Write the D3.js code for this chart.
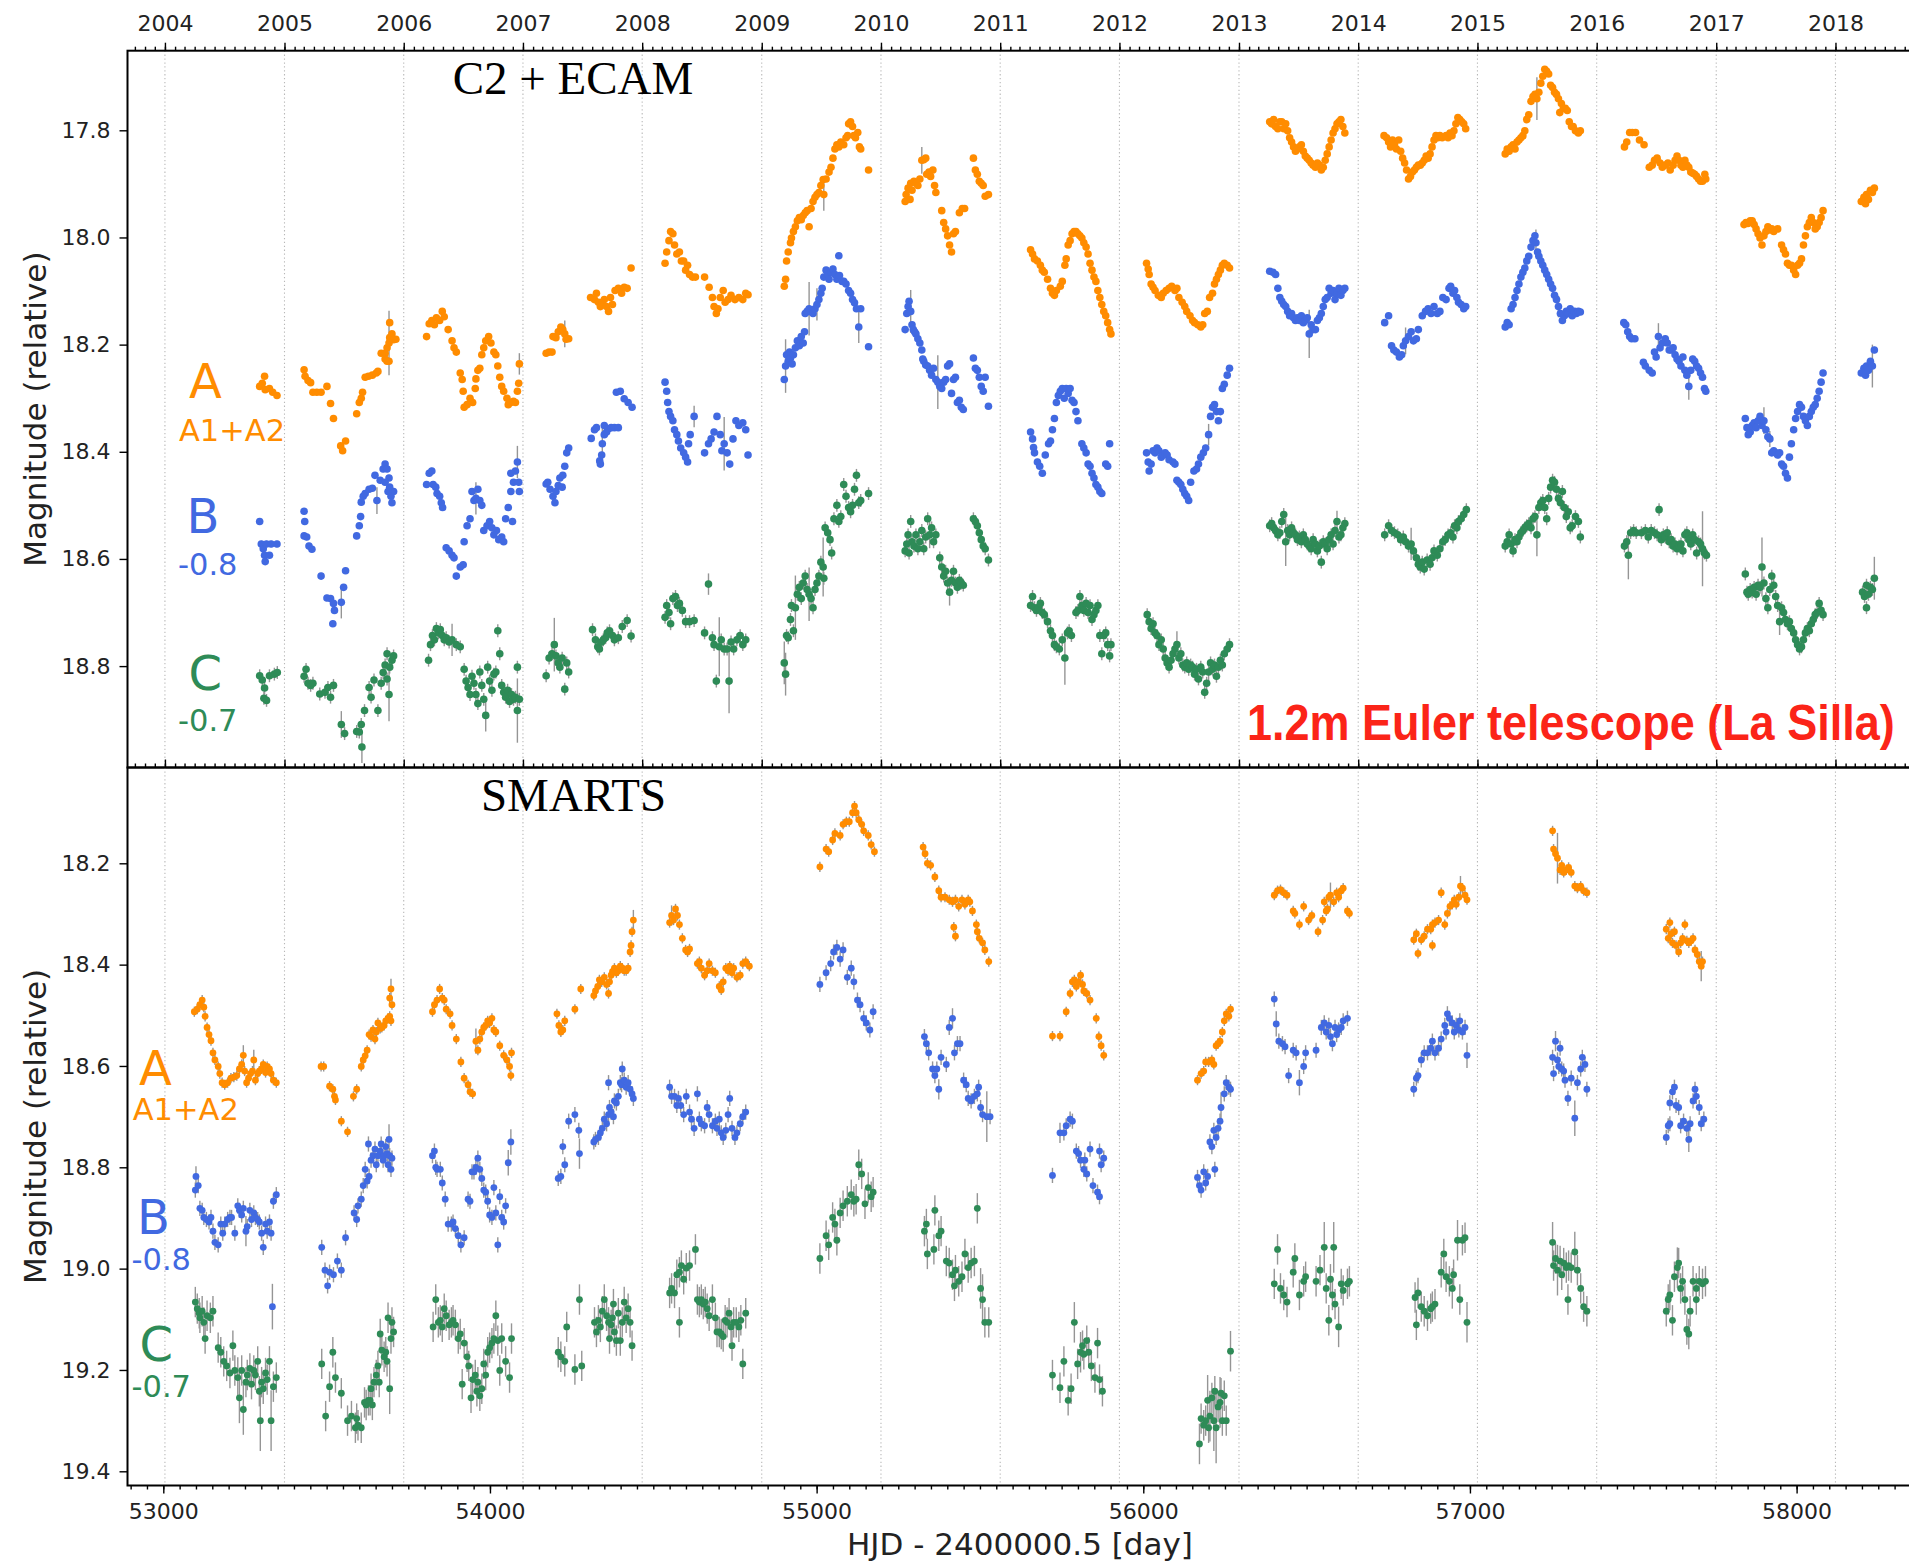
<!DOCTYPE html>
<html>
<head>
<meta charset="utf-8">
<script src="https://cdn.jsdelivr.net/npm/d3@7"></script>
<style>
  body { margin: 0; background: #fff; }
  svg { display: block; }
</style>
</head>
<body>
<svg id="chart" width="1909" height="1564"></svg>
<script>
// ---------------------------------------------------------------------------
// Light curves of the lensed quasar images A (A1+A2), B (shifted by -0.8 mag)
// and C (shifted by -0.7 mag).  Each point: [HJD - 2400000.5, magnitude, (error)]
// Points without an explicit error use the nominal error of their series.
// ---------------------------------------------------------------------------

// 1.2m Euler telescope, C2 + ECAM cameras
const ecamA = [
  [53295,18.278],[53303,18.272],[53310,18.259],[53312,18.284],[53325,18.282],[53335,18.289],[53348,18.295],
  [53431,18.247],[53434,18.259],[53443,18.267],[53451,18.271],[53458,18.289],[53470,18.289],[53483,18.289],[53501,18.278],[53512,18.310],[53521,18.338],[53543,18.389],[53549,18.398],[53558,18.380],[53592,18.329],[53600,18.308],[53606,18.300],[53610,18.289],[53618,18.261],[53628,18.259],[53640,18.257],[53652,18.253],[53657,18.250],[53667,18.216],[53679,18.216],[53685,18.206],[53691,18.197,0.06],[53697,18.190],[53693,18.159],[53693,18.187],[53700,18.180],[53705,18.191],[53712,18.190],[53691,18.231],[53685,18.231],[53679,18.227],
  [53806,18.185],[53814,18.161],[53822,18.155],[53830,18.163],[53836,18.150],[53846,18.155],[53854,18.138],[53860,18.148],[53872,18.172],[53884,18.193],[53890,18.206],[53897,18.214],[53909,18.253],[53915,18.265],[53918,18.287],[53921,18.317],[53930,18.312],[53939,18.300],[53947,18.308],[53955,18.282],[53957,18.264],[53963,18.248],[53969,18.244],[53975,18.219],[53981,18.206],[53987,18.193],[53996,18.185],[54003,18.197],[54012,18.214],[54018,18.219],[54024,18.240],[54030,18.261],[54036,18.278],[54042,18.287],[54052,18.300],[54056,18.312],[54064,18.308],[54072,18.306],[54078,18.308],[54084,18.287],[54090,18.236,0.02],[54088,18.272],
  [54172,18.216],[54181,18.214],[54190,18.214],[54193,18.185],[54202,18.187],[54209,18.176],[54217,18.167],[54223,18.172],[54229,18.180,0.025],[54233,18.190],[54241,18.189],[54308,18.112],[54320,18.116],[54326,18.104],[54332,18.121],[54338,18.129],[54344,18.121],[54350,18.116],[54357,18.129],[54363,18.138],[54369,18.112],[54375,18.125],[54383,18.099],[54393,18.095],[54403,18.104],[54411,18.093],[54420,18.095],[54432,18.057],
  [54536,18.048],[54541,18.027],[54548,18.006],[54553,17.989],[54560,17.993],[54565,18.014],[54572,18.031],[54580,18.027],[54586,18.044],[54593,18.044],[54599,18.061],[54605,18.052],[54611,18.069],[54620,18.074],[54629,18.074],[54657,18.074],[54671,18.093],[54681,18.112],[54686,18.129],[54693,18.142],[54698,18.133],[54705,18.112],[54714,18.099],[54720,18.121],[54729,18.116],[54738,18.108],[54750,18.116],[54762,18.112],[54774,18.116],[54783,18.104],[54790,18.107],
  [54901,18.091],[54905,18.078],[54908,18.044],[54913,18.027],[54920,18.010],[54923,18.001],[54929,17.989],[54935,17.980],[54941,17.969],[54947,17.963],[54953,17.967],[54959,17.959],[54965,17.954],[54971,17.950],[54977,17.980],[54983,17.946],[54989,17.933],[54995,17.925],[55001,17.920],[55007,17.916],[55013,17.903],[55020,17.892],[55022,17.920,0.03],[55029,17.891],[55038,17.878],[55044,17.869],[55050,17.852],[55056,17.835],[55062,17.827],[55068,17.831],[55074,17.822],[55083,17.827],[55090,17.814],[55095,17.810],[55098,17.788],[55104,17.784],[55110,17.793],[55114,17.810],[55119,17.814],[55126,17.804],[55131,17.831],[55135,17.835],[55159,17.874],
  [55271,17.933],[55274,17.920],[55280,17.908],[55286,17.929],[55288,17.899],[55292,17.912],[55298,17.895],[55304,17.899],[55310,17.903],[55316,17.891],[55322,17.856,0.025],[55328,17.855],[55334,17.852],[55337,17.882],[55344,17.878],[55349,17.886],[55356,17.874],[55361,17.903],[55365,17.916],[55383,17.950],[55389,17.972],[55395,17.984],[55401,17.997],[55407,18.014],[55413,18.027],[55419,17.993],[55425,17.989],[55437,17.954],[55446,17.946],[55453,17.946],[55480,17.852],[55486,17.874],[55492,17.882],[55498,17.895],[55504,17.899],[55510,17.903],[55516,17.923],[55526,17.920],
  [55655,18.023],[55661,18.031],[55667,18.040],[55676,18.044],[55685,18.052],[55691,18.061],[55697,18.065],[55707,18.078],[55716,18.095],[55722,18.104],[55728,18.108],[55734,18.099],[55746,18.091],[55752,18.082],[55760,18.052],[55764,18.040],[55770,18.014],[55776,18.006],[55782,17.993],[55788,17.989],[55794,17.989],[55800,17.993],[55806,17.997],[55812,18.001],[55818,18.010],[55825,18.018],[55831,18.031],[55837,18.048],[55843,18.061],[55849,18.074],[55855,18.082],[55861,18.099],[55867,18.112],[55873,18.125],[55879,18.138],[55885,18.146],[55891,18.159],[55897,18.172],[55901,18.180],
  [56010,18.048],[56015,18.059],[56018,18.069],[56024,18.087],[56030,18.093],[56036,18.099],[56046,18.108],[56055,18.112],[56061,18.104],[56070,18.099],[56079,18.095],[56087,18.091],[56097,18.099],[56103,18.095],[56109,18.112],[56119,18.121],[56127,18.129],[56133,18.138],[56143,18.146],[56151,18.155],[56157,18.159],[56167,18.163],[56176,18.167],[56182,18.163],[56188,18.142],[56196,18.138],[56203,18.112],[56212,18.104],[56218,18.087],[56224,18.078],[56230,18.069],[56236,18.061],[56242,18.052],[56248,18.048],[56257,18.052],[56264,18.057],
  [56387,17.784],[56393,17.788],[56399,17.780],[56405,17.793],[56412,17.797],[56418,17.784],[56424,17.784],[56430,17.797],[56436,17.788],[56442,17.801],[56448,17.814],[56454,17.822],[56460,17.831],[56466,17.839],[56472,17.835],[56478,17.831],[56484,17.827],[56490,17.839],[56496,17.848],[56502,17.852],[56508,17.856],[56514,17.861],[56520,17.865],[56527,17.869],[56533,17.861],[56539,17.865],[56545,17.874],[56551,17.869],[56557,17.856],[56563,17.844],[56569,17.831],[56575,17.818],[56581,17.805],[56587,17.797],[56593,17.788],[56599,17.784],[56605,17.780],[56611,17.793],[56617,17.805],
  [56737,17.810],[56745,17.814],[56751,17.822],[56757,17.831],[56763,17.818],[56769,17.827],[56775,17.835],[56782,17.818],[56788,17.839],[56794,17.852],[56800,17.861],[56806,17.874],[56812,17.891],[56818,17.886],[56824,17.878],[56830,17.874],[56836,17.869],[56842,17.865],[56848,17.865],[56854,17.861],[56860,17.856],[56866,17.848],[56872,17.852],[56878,17.844],[56884,17.831],[56890,17.818],[56896,17.810],[56902,17.814],[56908,17.810],[56915,17.814],[56927,17.810],[56933,17.814],[56939,17.805],[56945,17.810],[56951,17.801],[56957,17.788],[56963,17.776],[56969,17.780],[56975,17.784],[56981,17.788],[56987,17.797],
  [57108,17.844],[57114,17.835],[57120,17.839],[57126,17.831],[57132,17.827],[57138,17.835],[57144,17.822],[57150,17.818],[57156,17.814],[57162,17.810],[57168,17.801],[57174,17.780],[57180,17.771],[57187,17.746],[57193,17.737],[57199,17.733],[57205,17.741,0.04],[57211,17.729],[57217,17.712],[57223,17.699],[57229,17.686],[57235,17.690],[57241,17.695],[57247,17.716],[57253,17.720],[57259,17.729],[57265,17.733],[57271,17.741],[57275,17.767],[57280,17.750],[57286,17.759],[57292,17.759],[57298,17.763],[57304,17.784],[57311,17.793],[57316,17.793],[57323,17.801],[57332,17.805],[57338,17.801],
  [57473,17.831],[57480,17.822],[57489,17.804],[57497,17.804],[57507,17.804],[57519,17.818],[57533,17.827],[57549,17.869],[57558,17.865],[57565,17.856],[57573,17.852],[57582,17.861],[57589,17.869],[57598,17.865],[57606,17.861],[57613,17.874],[57622,17.865],[57628,17.856],[57634,17.848],[57640,17.856],[57646,17.865],[57652,17.869],[57658,17.856],[57664,17.865],[57670,17.869],[57676,17.878],[57682,17.880],[57688,17.882],[57694,17.886],[57700,17.891],[57706,17.895],[57712,17.895],[57719,17.882],[57722,17.891],
  [57839,17.976],[57845,17.972],[57851,17.974],[57858,17.969],[57864,17.969],[57870,17.976],[57876,17.984],[57882,17.993],[57888,18.001],[57894,18.014],[57900,17.997],[57906,17.989],[57912,17.980],[57918,17.986],[57924,17.984],[57930,17.989],[57942,17.984],[57954,18.014],[57960,18.023],[57966,18.031],[57972,18.048],[57978,18.052],[57984,18.052],[57991,18.061],[57997,18.069],[58003,18.052],[58009,18.048],[58015,18.040],[58021,18.014],[58027,17.997],[58033,17.980],[58039,17.972],[58045,17.963],[58051,17.972],[58057,17.984],[58063,17.980],[58069,17.972],[58075,17.963],[58081,17.950],
  [58198,17.933],[58206,17.925],[58211,17.937],[58214,17.920],[58220,17.929],[58226,17.912],[58232,17.916],[58238,17.908]
];

const ecamB = [
  [53295,18.530],[53300,18.572],[53306,18.581],[53310,18.593],[53312,18.605],[53316,18.572],[53325,18.593],[53330,18.572],[53348,18.572],
  [53431,18.511],[53433,18.530],[53431,18.557],[53439,18.559],[53446,18.576],[53455,18.582],[53483,18.632],[53501,18.673],[53512,18.674],[53521,18.683],[53524,18.696],[53519,18.721],[53545,18.681,0.03],[53552,18.653],[53558,18.622],[53592,18.557],[53600,18.538],[53604,18.521],[53606,18.494],[53612,18.483],[53618,18.478],[53630,18.470],[53640,18.468],[53648,18.444],[53654,18.491,0.025],[53664,18.453],[53673,18.432],[53679,18.423],[53685,18.432],[53691,18.449],[53693,18.466],[53697,18.483],[53700,18.495],[53705,18.474],[53688,18.474],[53679,18.457],
  [53806,18.461],[53814,18.440],[53822,18.436],[53826,18.461],[53834,18.466],[53838,18.478],[53846,18.483],[53851,18.495],[53855,18.504],[53866,18.579],[53875,18.585],[53884,18.593],[53890,18.598],[53897,18.632],[53909,18.615],[53918,18.611],[53921,18.568],[53930,18.538],[53939,18.525],[53945,18.474],[53951,18.491],[53957,18.487,0.03],[53963,18.470],[53969,18.491],[53975,18.500],[53981,18.547],[53991,18.538],[53999,18.530],[54006,18.542],[54012,18.555],[54020,18.547],[54027,18.564],[54036,18.559],[54042,18.568],[54048,18.525],[54056,18.504],[54064,18.474],[54069,18.530],[54072,18.457],[54078,18.436],[54084,18.419,0.03],[54088,18.457],[54090,18.474],[54064,18.440],
  [54172,18.460],[54177,18.457],[54184,18.470],[54193,18.483],[54199,18.495],[54202,18.474],[54209,18.463],[54214,18.449],[54221,18.466],[54223,18.444],[54229,18.427],[54235,18.402],[54241,18.393],[54310,18.375],[54320,18.359],[54326,18.355],[54336,18.417],[54338,18.423],[54342,18.406],[54344,18.385,0.035],[54350,18.368],[54357,18.363],[54363,18.357],[54371,18.355],[54381,18.355],[54393,18.355],[54350,18.351],[54387,18.289],[54399,18.287],[54411,18.301],[54423,18.308],[54435,18.317],
  [54536,18.270],[54541,18.287],[54544,18.308],[54548,18.325],[54553,18.334],[54560,18.342],[54565,18.359],[54572,18.368],[54577,18.380],[54584,18.393],[54593,18.402],[54599,18.410],[54605,18.419],[54608,18.385],[54613,18.368],[54625,18.334,0.02],[54657,18.402],[54669,18.385],[54677,18.376],[54686,18.363],[54695,18.334],[54705,18.368],[54710,18.398],[54717,18.385,0.05],[54726,18.402],[54734,18.423],[54744,18.376],[54753,18.342],[54762,18.351],[54774,18.346],[54783,18.359],[54790,18.406],
  [54901,18.265],[54905,18.240,0.05],[54908,18.219],[54913,18.231],[54917,18.214],[54920,18.225],[54925,18.236],[54929,18.219],[54935,18.206],[54941,18.193],[54947,18.202],[54953,18.185],[54959,18.197],[54963,18.176],[54965,18.142],[54971,18.138],[54977,18.133,0.05],[54983,18.138],[54989,18.142],[54995,18.133],[55001,18.125,0.03],[55007,18.116],[55013,18.104],[55017,18.095],[55022,18.074],[55029,18.061],[55034,18.069],[55038,18.078],[55044,18.065],[55050,18.059],[55056,18.069],[55062,18.078],[55070,18.071],[55068,18.034],[55078,18.082],[55083,18.082],[55090,18.087],[55098,18.099],[55104,18.104],[55110,18.116],[55116,18.122],[55122,18.133],[55129,18.167,0.03],[55135,18.133],[55159,18.204],
  [55271,18.172],[55276,18.142],[55280,18.129],[55283,18.119],[55288,18.138,0.04],[55292,18.163],[55296,18.172],[55300,18.176],[55304,18.180],[55310,18.189],[55316,18.197],[55322,18.210],[55325,18.227],[55328,18.231],[55334,18.238],[55340,18.240],[55346,18.248],[55352,18.257],[55358,18.244],[55365,18.265],[55371,18.270,0.05],[55377,18.278],[55383,18.282],[55389,18.270],[55395,18.265],[55401,18.240],[55407,18.236],[55413,18.291],[55419,18.265],[55425,18.261],[55431,18.308],[55437,18.304],[55443,18.317],[55449,18.321],[55480,18.225],[55486,18.244],[55492,18.248],[55498,18.261],[55504,18.278],[55510,18.287],[55516,18.261],[55526,18.315],
  [55655,18.363],[55661,18.376],[55664,18.392],[55667,18.402],[55676,18.419],[55683,18.427],[55691,18.440],[55700,18.406],[55710,18.385],[55716,18.380],[55722,18.359],[55728,18.338],[55734,18.308],[55740,18.295],[55746,18.287],[55752,18.282],[55758,18.300],[55764,18.282],[55770,18.291],[55776,18.282],[55782,18.304],[55788,18.308],[55794,18.325],[55800,18.342],[55812,18.385],[55818,18.393],[55825,18.402],[55831,18.423],[55837,18.427],[55843,18.440],[55849,18.449],[55855,18.461],[55861,18.466],[55867,18.474],[55873,18.478],[55885,18.423],[55891,18.427],[55897,18.385],
  [56010,18.402],[56015,18.419],[56018,18.436],[56024,18.423],[56030,18.398],[56036,18.402],[56042,18.393],[56048,18.398],[56055,18.410],[56061,18.406],[56067,18.402],[56073,18.406],[56079,18.415],[56091,18.419],[56097,18.423],[56103,18.453],[56109,18.457],[56115,18.461],[56121,18.470],[56127,18.478],[56133,18.483],[56139,18.491],[56145,18.457],[56155,18.436],[56163,18.432],[56169,18.423],[56176,18.410],[56184,18.402],[56191,18.393],[56200,18.368,0.02],[56206,18.334],[56212,18.317],[56218,18.312],[56224,18.325],[56230,18.342],[56236,18.325],[56242,18.282],[56248,18.274],[56257,18.257],[56264,18.244],
  [56387,18.063],[56397,18.065],[56405,18.069],[56412,18.095],[56418,18.112],[56424,18.119],[56430,18.125],[56436,18.129],[56442,18.138],[56448,18.146],[56454,18.142],[56460,18.150],[56466,18.155],[56472,18.150],[56478,18.155],[56484,18.146],[56490,18.159],[56496,18.155],[56502,18.150],[56508,18.180,0.045],[56514,18.163],[56520,18.172],[56527,18.172],[56533,18.155],[56539,18.150],[56545,18.142],[56551,18.129],[56557,18.116],[56563,18.112],[56569,18.095],[56575,18.104],[56581,18.099],[56587,18.116],[56593,18.104],[56599,18.095],[56605,18.108],[56611,18.099],[56617,18.095],
  [56739,18.159],[56751,18.146],[56760,18.202],[56767,18.210],[56775,18.214],[56784,18.223],[56791,18.219],[56796,18.202],[56803,18.193,0.025],[56812,18.185],[56820,18.176],[56827,18.193],[56836,18.189],[56842,18.172],[56854,18.146],[56864,18.138],[56872,18.133],[56881,18.142],[56890,18.129],[56900,18.142],[56908,18.138],[56917,18.112],[56927,18.116],[56936,18.095],[56941,18.091],[56948,18.104],[56953,18.099],[56960,18.112],[56965,18.121],[56973,18.125],[56981,18.133],[56987,18.129],
  [57108,18.167],[57114,18.159],[57120,18.163],[57126,18.133],[57132,18.125],[57138,18.112],[57144,18.099],[57150,18.087],[57156,18.074],[57162,18.065],[57168,18.057],[57174,18.044],[57180,18.035],[57187,18.018],[57193,18.006],[57199,17.997],[57202,18.010,0.025],[57207,18.027],[57211,18.035],[57217,18.044],[57223,18.052],[57229,18.061],[57235,18.069],[57241,18.078],[57247,18.087],[57253,18.095],[57259,18.108],[57265,18.116],[57271,18.129,0.02],[57277,18.142],[57283,18.155],[57289,18.146],[57295,18.138],[57301,18.142],[57307,18.133],[57313,18.146],[57320,18.138],[57326,18.142],[57332,18.138],[57338,18.139],
  [57471,18.159],[57477,18.163],[57483,18.176],[57489,18.185],[57495,18.189],[57505,18.189],[57531,18.233],[57537,18.240],[57549,18.248],[57558,18.253],[57565,18.214],[57570,18.223],[57577,18.185,0.025],[57582,18.206],[57589,18.197],[57598,18.189],[57604,18.197],[57610,18.210],[57616,18.210],[57622,18.206],[57628,18.219],[57634,18.227],[57640,18.231],[57646,18.240],[57652,18.223],[57658,18.248],[57664,18.257],[57670,18.278,0.025],[57676,18.248],[57682,18.227],[57688,18.231],[57694,18.240],[57700,18.244],[57706,18.253],[57712,18.261],[57718,18.282],[57722,18.287],
  [57843,18.338],[57848,18.355],[57852,18.368],[57858,18.363],[57864,18.351],[57870,18.346],[57876,18.355],[57882,18.342],[57888,18.334],[57894,18.351],[57900,18.342,0.025],[57906,18.359],[57912,18.372],[57918,18.376,0.015],[57924,18.402],[57930,18.398],[57936,18.402],[57942,18.406],[57948,18.402],[57954,18.423],[57960,18.427],[57966,18.440],[57972,18.449],[57978,18.410],[57984,18.385],[57991,18.359],[57997,18.338],[58003,18.325],[58009,18.312],[58015,18.317],[58021,18.334],[58027,18.342],[58033,18.351],[58039,18.334],[58045,18.325],[58051,18.317],[58057,18.312],[58063,18.300],[58069,18.287],[58075,18.270],[58081,18.253],
  [58198,18.253],[58206,18.244],[58211,18.257],[58214,18.240],[58220,18.248],[58226,18.231],[58232,18.240,0.04],[58238,18.210]
];

const ecamC = [
  [53295,18.818],[53303,18.826],[53310,18.841],[53308,18.860],[53316,18.864],[53325,18.818],[53340,18.815],[53349,18.812],
  [53431,18.819],[53437,18.806],[53443,18.832],[53451,18.836],[53458,18.832],[53479,18.852],[53495,18.849],[53504,18.840],[53512,18.858],[53521,18.836],[53545,18.909,0.025],[53555,18.926],[53592,18.922],[53600,18.923],[53606,18.909],[53608,18.951,0.03],[53616,18.883],[53630,18.840],[53636,18.858],[53645,18.826],[53657,18.883],[53667,18.832],[53673,18.812],[53679,18.798],[53685,18.824],[53691,18.853,0.05],[53693,18.802],[53700,18.789],[53705,18.781],[53685,18.777],
  [53812,18.789],[53818,18.760],[53824,18.743],[53830,18.751],[53836,18.730],[53842,18.738],[53848,18.732],[53854,18.743],[53860,18.751],[53866,18.747],[53875,18.755],[53884,18.751,0.03],[53897,18.760],[53909,18.764],[53921,18.806],[53927,18.828],[53933,18.840],[53939,18.853],[53945,18.819],[53951,18.832],[53957,18.853],[53963,18.870],[53969,18.811],[53975,18.836],[53981,18.862],[53987,18.892,0.03],[53993,18.802],[53999,18.828],[54006,18.845],[54012,18.815],[54018,18.811],[54024,18.734],[54030,18.777],[54036,18.836],[54042,18.849],[54048,18.858],[54054,18.845],[54060,18.866],[54066,18.853],[54072,18.862],[54078,18.858],[54084,18.802],[54090,18.862],[54084,18.883,0.06],
  [54172,18.818],[54181,18.785],[54190,18.777],[54197,18.760,0.05],[54202,18.781],[54209,18.794],[54214,18.802],[54221,18.785],[54229,18.843],[54235,18.794],[54241,18.811],[54314,18.732],[54323,18.751],[54330,18.764],[54335,18.768],[54342,18.755],[54347,18.751],[54354,18.747],[54359,18.738],[54366,18.734],[54375,18.743],[54381,18.751],[54393,18.747],[54405,18.726],[54420,18.715],[54432,18.744],
  [54536,18.709],[54541,18.687],[54548,18.700],[54553,18.721],[54560,18.674],[54568,18.670],[54574,18.687],[54580,18.683],[54589,18.696],[54599,18.717],[54611,18.717],[54625,18.715],[54657,18.738],[54669,18.647,0.02],[54681,18.747],[54686,18.760],[54693,18.828],[54702,18.764,0.055],[54708,18.751],[54717,18.768],[54726,18.768],[54732,18.828,0.06],[54738,18.755],[54746,18.768],[54756,18.751],[54766,18.743],[54774,18.760],[54783,18.751],
  [54901,18.794,0.04],[54905,18.815,0.04],[54908,18.743],[54913,18.747],[54920,18.713],[54923,18.687],[54929,18.734],[54935,18.691,0.06],[54941,18.666],[54947,18.653],[54953,18.674],[54959,18.645],[54965,18.632],[54971,18.657],[54977,18.666,0.05],[54983,18.674],[54989,18.691],[54995,18.657],[55001,18.645],[55007,18.632],[55013,18.606],[55020,18.615,0.055],[55022,18.636],[55026,18.542],[55034,18.551],[55041,18.564],[55046,18.589],[55053,18.525],[55062,18.500],[55068,18.530],[55074,18.521],[55083,18.461],[55090,18.483],[55098,18.504],[55104,18.512],[55110,18.500],[55116,18.470],[55122,18.444],[55129,18.495],[55135,18.491],[55159,18.478],
  [55271,18.585],[55276,18.572],[55280,18.555],[55283,18.589],[55288,18.530],[55292,18.568],[55298,18.576],[55304,18.555],[55310,18.581],[55316,18.568],[55322,18.547],[55328,18.581],[55334,18.559],[55340,18.525],[55346,18.555,0.025],[55352,18.542],[55358,18.568],[55365,18.555],[55377,18.598],[55383,18.615],[55389,18.632],[55395,18.623],[55401,18.645],[55407,18.662,0.025],[55413,18.640],[55419,18.623],[55425,18.645],[55431,18.653],[55437,18.640],[55443,18.645],[55449,18.649],[55480,18.525],[55486,18.530],[55492,18.538],[55498,18.551],[55504,18.564],[55510,18.576],[55516,18.581],[55526,18.602],
  [55655,18.687],[55661,18.670],[55667,18.691],[55673,18.696],[55679,18.691],[55685,18.683],[55691,18.700],[55697,18.704],[55707,18.717],[55716,18.734],[55722,18.743],[55728,18.760],[55734,18.764],[55743,18.768],[55752,18.751],[55760,18.785,0.05],[55768,18.738],[55773,18.734],[55780,18.743],[55794,18.700],[55800,18.696],[55806,18.670],[55812,18.687],[55818,18.696],[55825,18.683],[55831,18.700],[55837,18.687],[55843,18.713],[55849,18.704],[55855,18.696],[55861,18.687],[55867,18.743],[55873,18.777],[55879,18.743],[55885,18.738],[55891,18.760],[55897,18.781],[55901,18.760],
  [56012,18.704],[56018,18.717],[56024,18.730],[56030,18.721],[56036,18.738],[56042,18.743],[56048,18.760],[56055,18.751],[56061,18.768],[56067,18.785],[56073,18.794],[56079,18.802],[56085,18.789],[56091,18.777],[56097,18.768],[56103,18.760,0.025],[56109,18.785],[56115,18.777],[56121,18.798],[56127,18.802],[56133,18.794],[56139,18.806],[56145,18.798],[56151,18.802],[56157,18.815],[56163,18.806],[56169,18.824],[56176,18.802],[56182,18.811],[56188,18.849],[56194,18.832],[56200,18.811,0.02],[56206,18.794],[56212,18.806],[56218,18.798],[56224,18.819],[56230,18.802],[56236,18.789],[56242,18.798],[56248,18.777],[56257,18.768],[56264,18.760],
  [56387,18.538],[56393,18.534],[56399,18.542],[56405,18.547],[56412,18.555],[56418,18.551],[56424,18.530],[56430,18.517],[56436,18.568,0.045],[56442,18.547],[56448,18.555],[56454,18.542],[56460,18.551],[56466,18.555],[56472,18.564],[56478,18.559],[56484,18.568],[56490,18.555],[56496,18.564],[56502,18.572],[56508,18.576],[56514,18.581],[56520,18.564],[56527,18.572],[56533,18.585],[56539,18.576],[56545,18.606],[56551,18.568],[56557,18.572],[56563,18.581],[56569,18.564],[56575,18.555],[56581,18.572],[56587,18.547],[56593,18.530,0.02],[56599,18.559],[56605,18.555],[56611,18.542],[56617,18.534],
  [56739,18.555],[56751,18.538],[56760,18.547],[56769,18.551],[56779,18.555],[56788,18.564],[56796,18.559],[56803,18.568],[56812,18.576],[56820,18.572,0.03],[56827,18.585],[56836,18.598],[56842,18.610],[56848,18.615],[56854,18.606],[56860,18.619],[56869,18.602],[56878,18.610],[56884,18.598],[56890,18.585],[56900,18.593],[56908,18.581],[56917,18.568],[56924,18.564],[56933,18.555],[56941,18.551],[56948,18.559],[56953,18.538],[56960,18.542],[56965,18.530],[56973,18.525],[56981,18.517],[56989,18.508],
  [57108,18.576],[57114,18.568],[57120,18.555],[57126,18.572],[57132,18.585],[57138,18.564],[57144,18.568],[57150,18.559],[57156,18.551],[57162,18.547],[57168,18.542],[57174,18.538],[57180,18.534],[57187,18.542],[57193,18.525],[57199,18.521],[57205,18.555,0.04],[57211,18.504],[57217,18.495],[57223,18.491],[57229,18.504],[57235,18.525],[57241,18.487],[57247,18.466],[57253,18.453],[57259,18.457],[57265,18.470],[57271,18.487],[57277,18.495],[57283,18.474],[57289,18.504],[57295,18.521],[57301,18.512],[57307,18.542],[57313,18.538],[57323,18.521],[57332,18.530],[57338,18.559],
  [57473,18.576],[57480,18.568],[57485,18.593,0.045],[57492,18.551],[57501,18.547],[57509,18.551],[57525,18.551],[57537,18.547],[57546,18.559],[57555,18.547],[57565,18.551],[57573,18.555],[57579,18.508],[57586,18.564],[57592,18.555],[57598,18.559],[57604,18.551],[57610,18.568],[57616,18.564],[57622,18.576],[57628,18.572],[57634,18.581],[57640,18.576],[57646,18.572],[57652,18.585],[57658,18.555],[57664,18.551],[57670,18.564],[57676,18.572],[57682,18.555],[57688,18.564],[57694,18.589],[57700,18.568],[57706,18.572],[57712,18.581,0.07],[57718,18.589],[57724,18.593],
  [57843,18.628],[57848,18.662],[57852,18.666],[57858,18.657],[57864,18.662],[57870,18.653],[57876,18.666],[57882,18.649],[57888,18.653],[57894,18.615,0.055],[57900,18.645],[57906,18.674],[57912,18.691],[57918,18.657],[57924,18.632],[57930,18.649],[57936,18.670],[57942,18.687],[57948,18.717,0.025],[57954,18.691],[57960,18.700],[57966,18.713],[57972,18.721],[57978,18.717],[57984,18.730],[57991,18.738],[57997,18.751],[58003,18.760],[58009,18.768],[58015,18.764],[58021,18.751],[58027,18.738],[58033,18.730],[58039,18.734],[58045,18.721],[58051,18.713],[58057,18.704],[58063,18.700],[58069,18.683],[58075,18.696],[58081,18.704],
  [58202,18.662],[58208,18.670],[58214,18.649],[58220,18.666],[58226,18.653],[58232,18.657],[58238,18.636,0.04],[58214,18.691]
];

// 1.3m SMARTS telescope
const smartsA = [
  [53095,18.493],[53104,18.488],[53112,18.479],[53119,18.470],[53124,18.484],[53128,18.502],[53134,18.524],[53140,18.538],[53146,18.550],[53152,18.574],[53158,18.588],[53168,18.601],[53173,18.615],[53180,18.633],[53188,18.637],[53197,18.633],[53207,18.624],[53216,18.622],[53225,18.619],[53233,18.606],[53240,18.597],[53245,18.579,0.02],[53249,18.610],[53255,18.633],[53261,18.624],[53267,18.615],[53273,18.610],[53277,18.588,0.02],[53282,18.628],[53289,18.615],[53294,18.610],[53301,18.606],[53306,18.597],[53313,18.613],[53318,18.601],[53325,18.606],[53330,18.615],[53337,18.628],[53346,18.633],
  [53483,18.601],[53491,18.601],[53509,18.640],[53519,18.646],[53524,18.660],[53527,18.667],[53545,18.709],[53564,18.730],[53582,18.660],[53592,18.646],[53606,18.601],[53612,18.588],[53618,18.580],[53624,18.569],[53630,18.538],[53636,18.542],[53642,18.529],[53648,18.547],[53652,18.533],[53657,18.515],[53664,18.526],[53669,18.524],[53676,18.520],[53681,18.511],[53688,18.506],[53693,18.502],[53697,18.511],[53700,18.479],[53693,18.466],[53697,18.448,0.02],
  [53824,18.493],[53830,18.479],[53838,18.470],[53846,18.448],[53854,18.466],[53860,18.470],[53866,18.488],[53878,18.497],[53884,18.520],[53897,18.547],[53911,18.592],[53921,18.624],[53933,18.637],[53939,18.651],[53947,18.655],[53957,18.551,0.025],[53963,18.569],[53969,18.547],[53975,18.533],[53981,18.524],[53987,18.520],[53993,18.511],[53999,18.515],[54006,18.506],[54012,18.529],[54018,18.533],[54030,18.560],[54042,18.579],[54052,18.588],[54060,18.601],[54066,18.574],[54064,18.619],
  [54205,18.497],[54211,18.520],[54217,18.533],[54223,18.529],[54229,18.511],[54260,18.488],[54278,18.448],[54318,18.461],[54323,18.452],[54330,18.443],[54335,18.430],[54342,18.434],[54350,18.425],[54357,18.439],[54363,18.457],[54366,18.434],[54371,18.421],[54375,18.414],[54381,18.407],[54387,18.416],[54393,18.412],[54399,18.403],[54405,18.407],[54411,18.412],[54417,18.412],[54423,18.407],[54429,18.375],[54435,18.335],[54439,18.312,0.02],[54432,18.362],
  [54550,18.317],[54556,18.303,0.02],[54562,18.312],[54568,18.290],[54574,18.303],[54580,18.321],[54589,18.348],[54599,18.371],[54605,18.375],[54611,18.369],[54635,18.398],[54641,18.394],[54647,18.407],[54657,18.421],[54665,18.412],[54671,18.398],[54681,18.412],[54690,18.416],[54702,18.443],[54708,18.450],[54714,18.434],[54722,18.407],[54729,18.412],[54734,18.403],[54741,18.416],[54746,18.407],[54756,18.425],[54766,18.421],[54774,18.398],[54783,18.394],[54794,18.403],
  [55010,18.207],[55029,18.172],[55037,18.177],[55049,18.154],[55056,18.141],[55072,18.145],[55081,18.123],[55091,18.118],[55100,18.118],[55110,18.100],[55116,18.087],[55121,18.100],[55129,18.114],[55138,18.123],[55144,18.136],[55158,18.145],[55167,18.163],[55177,18.177],
  [55326,18.168],[55332,18.181],[55339,18.200],[55349,18.204],[55362,18.227],[55374,18.254],[55381,18.267],[55393,18.267],[55406,18.272],[55416,18.276],[55425,18.272],[55435,18.285],[55445,18.272],[55454,18.281],[55464,18.272],[55469,18.276],[55477,18.294],[55420,18.326],[55425,18.344],[55489,18.321],[55492,18.335],[55498,18.348],[55508,18.357],[55515,18.371],[55527,18.394],
  [55722,18.541],[55745,18.541],[55764,18.493],[55776,18.457],[55783,18.434],[55789,18.430],[55795,18.443],[55802,18.434],[55808,18.421],[55814,18.439],[55818,18.452],[55827,18.457],[55837,18.470],[55856,18.506],[55864,18.542],[55871,18.560],[55879,18.579],
  [56166,18.628],[56177,18.615],[56185,18.610],[56191,18.592],[56200,18.592],[56210,18.588],[56216,18.597],[56223,18.560],[56229,18.556],[56235,18.551],[56242,18.533],[56248,18.511],[56254,18.497],[56262,18.502],[56267,18.488],
  [56401,18.263],[56411,18.254],[56420,18.252],[56430,18.258],[56440,18.263],[56459,18.294],[56464,18.299],[56478,18.321],[56491,18.285],[56506,18.312],[56516,18.303],[56535,18.335],[56549,18.312],[56554,18.276],[56560,18.294],[56568,18.267],[56573,18.263,0.025],[56583,18.276],[56592,18.258],[56598,18.267],[56606,18.254],[56612,18.249],[56625,18.294],[56631,18.299],[56564,18.290],
  [56828,18.351],[56836,18.339],[56841,18.378],[56851,18.351],[56860,18.344],[56870,18.330],[56880,18.330],[56885,18.321],[56893,18.317],[56904,18.312],[56912,18.258],[56923,18.321],[56931,18.299],[56939,18.285],[56946,18.281],[56952,18.272],[56958,18.281],[56966,18.267],[56971,18.245,0.02],[56977,18.249],[56985,18.263],[56991,18.272],[56885,18.362],
  [57253,18.136],[57256,18.172],[57262,18.181],[57268,18.190,0.05],[57276,18.213],[57281,18.204],[57287,18.218],[57295,18.213],[57302,18.208],[57310,18.218],[57321,18.245],[57329,18.249],[57339,18.245],[57348,18.254],[57358,18.258],
  [57601,18.330],[57607,18.348],[57612,18.317],[57616,18.339],[57620,18.357],[57626,18.335],[57631,18.362],[57639,18.375],[57645,18.357],[57651,18.348],[57658,18.321],[57664,18.353],[57670,18.357],[57677,18.353],[57683,18.348],[57689,18.371],[57696,18.380],[57702,18.394],[57708,18.403,0.03],[57712,18.394]
];

const smartsB = [
  [53100,18.818,0.02],[53098,18.845],[53107,18.836],[53112,18.881],[53119,18.885],[53124,18.899],[53132,18.903],[53140,18.908],[53146,18.899],[53152,18.926],[53158,18.948],[53168,18.953],[53176,18.912],[53182,18.930],[53188,18.912],[53197,18.903],[53204,18.899],[53209,18.899],[53219,18.930],[53228,18.876],[53233,18.885],[53240,18.894],[53245,18.881],[53253,18.926,0.03],[53257,18.917],[53265,18.885],[53270,18.903],[53277,18.890],[53282,18.899],[53289,18.903],[53294,18.908],[53301,18.930],[53306,18.958],[53313,18.912],[53318,18.926],[53325,18.908],[53330,18.930],[53337,18.867],[53346,18.854],[53334,19.075,0.045],
  [53485,18.958],[53495,19.003],[53503,19.034],[53509,19.007],[53521,19.012],[53533,18.985],[53545,19.003],[53558,18.939],[53584,18.890],[53592,18.903],[53596,18.876],[53606,18.863],[53612,18.836],[53618,18.804],[53624,18.827],[53630,18.818],[53628,18.754],[53636,18.786],[53642,18.777],[53648,18.764],[53652,18.795],[53657,18.777],[53664,18.768],[53667,18.754],[53673,18.786],[53676,18.777],[53681,18.759],[53685,18.773],[53688,18.795],[53693,18.777],[53697,18.804],[53700,18.782],[53691,18.745,0.03],
  [53824,18.777],[53830,18.768],[53834,18.800],[53838,18.804],[53848,18.804],[53854,18.831],[53863,18.863],[53872,18.912],[53882,18.912],[53887,18.908],[53894,18.921],[53903,18.935],[53911,18.953],[53921,18.939],[53933,18.863],[53939,18.867],[53945,18.809],[53951,18.809],[53957,18.800],[53963,18.782],[53969,18.804],[53975,18.822],[53981,18.845],[53987,18.849],[53993,18.867],[53999,18.894],[54006,18.899],[54012,18.840],[54018,18.890],[54024,18.953],[54030,18.858],[54036,18.899],[54042,18.908],[54048,18.876],[54056,18.791,0.025],[54064,18.750,0.025],
  [54209,18.822],[54217,18.818],[54223,18.759],[54229,18.795],[54241,18.709],[54260,18.696],[54272,18.727],[54274,18.773,0.03],[54318,18.750],[54323,18.745],[54332,18.741],[54338,18.732],[54344,18.723],[54350,18.705],[54357,18.714],[54363,18.696],[54366,18.682],[54371,18.691],[54378,18.700],[54381,18.669],[54387,18.673],[54393,18.660],[54399,18.633],[54403,18.637],[54405,18.606],[54411,18.628],[54417,18.642],[54423,18.633],[54429,18.646],[54435,18.655],[54439,18.664],[54363,18.633],
  [54550,18.642],[54556,18.660],[54565,18.660],[54572,18.678],[54577,18.664],[54584,18.678],[54593,18.696],[54601,18.660],[54611,18.691],[54617,18.705],[54625,18.723],[54635,18.655],[54641,18.705],[54647,18.714],[54657,18.718],[54665,18.682],[54671,18.696],[54681,18.718],[54690,18.709],[54695,18.723],[54702,18.705],[54708,18.732],[54714,18.741],[54722,18.727],[54729,18.696],[54734,18.664],[54741,18.723],[54750,18.741],[54756,18.732],[54766,18.714],[54774,18.700],[54783,18.691],
  [55010,18.439],[55029,18.416],[55043,18.398],[55052,18.375],[55062,18.366],[55072,18.389],[55081,18.371],[55094,18.425],[55106,18.407],[55114,18.434],[55125,18.470],[55133,18.479],[55144,18.506],[55152,18.515],[55163,18.529],[55173,18.493],
  [55330,18.542],[55336,18.556],[55343,18.574],[55355,18.606],[55362,18.619],[55368,18.606],[55374,18.646,0.02],[55381,18.583],[55397,18.597],[55406,18.524],[55416,18.506,0.02],[55422,18.574],[55431,18.556],[55439,18.556],[55450,18.628],[55458,18.637],[55464,18.664],[55473,18.669],[55483,18.660],[55492,18.655],[55502,18.682],[55508,18.696],[55521,18.700,0.05],[55531,18.700],[55496,18.642],
  [55722,18.816],[55745,18.732,0.02],[55757,18.732],[55764,18.718],[55776,18.705],[55783,18.709],[55795,18.768],[55802,18.773],[55808,18.786],[55818,18.804],[55827,18.813],[55821,18.786],[55837,18.764],[55846,18.836],[55860,18.849],[55866,18.858],[55871,18.795],[55879,18.782],[55866,18.768],
  [56166,18.820],[56172,18.836],[56177,18.845],[56185,18.809],[56191,18.831],[56197,18.818],[56204,18.750],[56210,18.759],[56216,18.727],[56219,18.804],[56223,18.741],[56229,18.723],[56235,18.709],[56238,18.682,0.03],[56248,18.655],[56254,18.633],[56262,18.642],[56267,18.646],
  [56401,18.468],[56407,18.517,0.025],[56415,18.551],[56426,18.556],[56434,18.562],[56445,18.619],[56459,18.569],[56468,18.574],[56478,18.633,0.025],[56491,18.601],[56497,18.574],[56529,18.569],[56545,18.524],[56554,18.515],[56560,18.533],[56568,18.520],[56573,18.542],[56579,18.556],[56587,18.524],[56592,18.538],[56598,18.529],[56606,18.524],[56612,18.511],[56625,18.506],
  [56828,18.646],[56836,18.624],[56841,18.619],[56851,18.588],[56860,18.574],[56870,18.574],[56880,18.565],[56885,18.551],[56893,18.574],[56904,18.565],[56912,18.547],[56923,18.520],[56931,18.497],[56937,18.506],[56946,18.515],[56952,18.533],[56958,18.520],[56966,18.529],[56969,18.511],[56977,18.533],[56985,18.524],[56991,18.579,0.025],[56927,18.533],
  [57253,18.583],[57256,18.615],[57262,18.551,0.02],[57268,18.588],[57272,18.601],[57276,18.565],[57281,18.606],[57287,18.610],[57291,18.628],[57300,18.664],[57310,18.624],[57321,18.703,0.035],[57329,18.633],[57339,18.606],[57344,18.583],[57352,18.597],[57358,18.646],
  [57601,18.741],[57607,18.718],[57612,18.673],[57620,18.651],[57626,18.642],[57631,18.678],[57639,18.682],[57645,18.718],[57654,18.709],[57664,18.723],[57670,18.745,0.025],[57674,18.714],[57683,18.669],[57689,18.646],[57693,18.660],[57702,18.682],[57708,18.714],[57716,18.705],[57612,18.714]
];

const smartsC = [
  [53098,19.066],[53104,19.079],[53110,19.088],[53112,19.097],[53119,19.084],[53124,19.106],[53128,19.138],[53134,19.093],[53144,19.097],[53152,19.084],[53168,19.156],[53176,19.165],[53185,19.183],[53194,19.192],[53204,19.206],[53213,19.152],[53219,19.201],[53228,19.215,0.04],[53233,19.255,0.05],[53240,19.201],[53245,19.278,0.05],[53253,19.224],[53257,19.210],[53265,19.197],[53270,19.228],[53277,19.201],[53282,19.210],[53289,19.183],[53294,19.242],[53297,19.300,0.06],[53301,19.224],[53306,19.237],[53313,19.206],[53318,19.219],[53325,19.183],[53330,19.300,0.06],[53337,19.233],[53346,19.215],
  [53485,19.188],[53497,19.291,0.03],[53509,19.233],[53519,19.165],[53527,19.215],[53545,19.246],[53564,19.300],[53576,19.291],[53588,19.314],[53592,19.296],[53596,19.309],[53606,19.314],[53616,19.264],[53621,19.269],[53628,19.260],[53633,19.260],[53636,19.237],[53640,19.269],[53645,19.224],[53652,19.210],[53657,19.192],[53661,19.224],[53664,19.129],[53669,19.161],[53676,19.174],[53681,19.165],[53685,19.183],[53688,19.097],[53693,19.237,0.05],[53697,19.138],[53700,19.106],[53705,19.125],
  [53826,19.115],[53834,19.061],[53842,19.106],[53848,19.102],[53854,19.115],[53860,19.079],[53866,19.093],[53875,19.111],[53882,19.106],[53887,19.102],[53894,19.111],[53903,19.138],[53909,19.129],[53915,19.228],[53921,19.147],[53930,19.174],[53935,19.192],[53942,19.255],[53947,19.219],[53955,19.210],[53960,19.242],[53963,19.224],[53969,19.251],[53975,19.237],[53981,19.188],[53987,19.210],[53993,19.165],[53999,19.156],[54006,19.147],[54012,19.138],[54018,19.093],[54024,19.142],[54030,19.201],[54036,19.138],[54048,19.183],[54060,19.215],[54066,19.138],
  [54209,19.165,0.03],[54217,19.174],[54229,19.183],[54260,19.199],[54281,19.192],[54235,19.115],[54274,19.061],[54320,19.106],[54326,19.125],[54332,19.102],[54338,19.115],[54344,19.084],[54350,19.061],[54357,19.093],[54363,19.106],[54366,19.138],[54371,19.111],[54375,19.097],[54381,19.125],[54387,19.142],[54393,19.088],[54399,19.142],[54405,19.106],[54411,19.066],[54417,19.097],[54423,19.079],[54429,19.106],[54435,19.152],[54378,19.070],
  [54550,19.048],[54556,19.039],[54565,19.048],[54572,19.012],[54580,19.007],[54586,18.994],[54593,19.021],[54601,18.999],[54611,18.994],[54629,18.962],[54580,19.106],[54635,19.061],[54641,19.066],[54647,19.061],[54653,19.070],[54659,19.066],[54665,19.079],[54671,19.093],[54681,19.061],[54690,19.097],[54695,19.125],[54702,19.125],[54708,19.129],[54714,19.134],[54720,19.102],[54726,19.106],[54732,19.088],[54738,19.115],[54741,19.152],[54746,19.106],[54754,19.106],[54762,19.115],[54768,19.102],[54774,19.188],[54783,19.088],
  [55010,18.980],[55029,18.935],[55037,18.953],[55049,18.899],[55056,18.912],[55062,18.944],[55072,18.890],[55081,18.876],[55094,18.867],[55106,18.854],[55114,18.867],[55121,18.863],[55129,18.795],[55138,18.813],[55148,18.872],[55158,18.840],[55167,18.858],[55173,18.849],
  [55330,18.926],[55336,18.912],[55339,18.971],[55359,18.962],[55362,18.885],[55374,18.935],[55381,18.926],[55397,18.985],[55406,18.989],[55416,19.012],[55422,19.034],[55425,19.003],[55435,19.025],[55445,19.016],[55454,18.971],[55464,18.998],[55473,18.989],[55483,18.985],[55492,18.881],[55502,19.039,0.04],[55508,19.061,0.05],[55515,19.106],[55527,19.106],
  [55722,19.210],[55745,19.235],[55757,19.183],[55770,19.260],[55779,19.237],[55789,19.106,0.04],[55799,19.188],[55808,19.165,0.04],[55814,19.152],[55818,19.169],[55827,19.142],[55833,19.165],[55841,19.192],[55852,19.215],[55860,19.147],[55866,19.219],[55875,19.242],
  [56172,19.346,0.04],[56177,19.296],[56185,19.309],[56191,19.300],[56197,19.260,0.05],[56200,19.314],[56204,19.291,0.05],[56210,19.255],[56216,19.300,0.06],[56219,19.242],[56223,19.314,0.07],[56229,19.273],[56235,19.264,0.05],[56238,19.246],[56242,19.300],[56248,19.251],[56254,19.300],[56267,19.163,0.04],
  [56401,19.030],[56411,18.962],[56420,19.039],[56430,19.052],[56440,19.066],[56459,19.007],[56464,18.980],[56478,19.052],[56491,19.025],[56497,19.016],[56529,19.025],[56541,19.003],[56554,18.958,0.05],[56560,19.039],[56568,19.102],[56573,19.021],[56579,19.052],[56583,18.958,0.05],[56587,19.070],[56598,19.115,0.04],[56606,19.030],[56612,19.043],[56625,19.030],[56631,19.025],
  [56832,19.057],[56836,19.111],[56841,19.048],[56851,19.075],[56860,19.084],[56870,19.093],[56880,19.079],[56885,19.075],[56893,19.070],[56912,19.007],[56920,18.971],[56927,19.016],[56937,19.025],[56946,19.039,0.04],[56950,19.012],[56962,18.944,0.04],[56969,19.061],[56977,18.944],[56985,18.939],[56991,19.106,0.04],
  [57253,18.948,0.04],[57256,18.994],[57262,18.980],[57268,19.003,0.05],[57276,18.985],[57281,19.012],[57287,18.989],[57295,18.998],[57302,18.994],[57310,18.998],[57321,18.967,0.04],[57329,19.003],[57339,19.039],[57348,19.075],[57358,19.084],[57300,19.061],
  [57601,19.084],[57607,19.061],[57612,19.052],[57620,19.102],[57626,19.016],[57635,18.998,0.04],[57639,18.989],[57645,19.039],[57651,19.025],[57658,19.061],[57664,19.120],[57670,19.129],[57674,19.084],[57683,19.025],[57693,19.039],[57702,19.025],[57712,19.030],[57721,19.025],[57693,19.061]
];

// nominal photometric errors of A, B, C
const ecamNominalErr = [0.004, 0.006, 0.012];
const smartsNominalErr = [0.010, 0.015, 0.030];

const componentNames = ["A", "B", "C"];
const componentNotes = ["A1+A2", "-0.8", "-0.7"];
const instrumentNames = ["C2 + ECAM", "SMARTS"];
const telescopeNote = "1.2m Euler telescope (La Silla)";

const ecamMagTicks = [17.8, 18.0, 18.2, 18.4, 18.6, 18.8];
const smartsMagTicks = [18.2, 18.4, 18.6, 18.8, 19.0, 19.2, 19.4];
const dayTicks = [53000, 54000, 55000, 56000, 57000, 58000];
const yearLabels = ["2004","2005","2006","2007","2008","2009","2010","2011","2012","2013","2014","2015","2016","2017","2018","2019"];

// ---------------------------------------------------------------------------
const W = 1909, H = 1564;
const plotLeft = 127.5, plotRight = 1912.5;
const colors = ["#ff8c00", "#4169e1", "#2e8b57"];
const sans = "DejaVu Sans";

const svg = d3.select("#chart");
svg.append("rect").attr("width", W).attr("height", H).attr("fill", "#fff");

const x = d3.scaleLinear().domain([53000, 58000]).range([163.3, 1796.6]);
const dayMin = x.invert(plotLeft), dayMax = x.invert(plotRight);

// MJD of a calendar date (UTC midnight)
const mjd = (y, m, d) => (Date.UTC(y, m, d) - Date.UTC(1858, 10, 17)) / 864e5;
const yearDays = yearLabels.map(s => mjd(+s, 0, 1));
const monthDays = [];
for (let yr = 2003; yr <= 2019; yr++) for (let m = 0; m < 12; m++) monthDays.push(mjd(yr, m, 1));
const inRange = d => d >= dayMin && d <= dayMax;
const yearsIn = yearDays.filter(inRange);
const monthsIn = monthDays.filter(inRange);
const minorDays = d3.range(52900, 58400, 50).filter(inRange);

const panels = [
  {
    top: 50.7, bottom: 767.5,
    y: d3.scaleLinear().domain([17.8, 18.8]).range([130.3, 666.1]),
    magTicks: ecamMagTicks,
    series: [ecamA, ecamB, ecamC],
    nominal: ecamNominalErr,
    title: instrumentNames[0], titleX: 573, titleY: 94.4,
    letters: [[189, 398], [186.5, 533], [188.5, 689.5]],
    notes: [[179, 441.4], [178, 575], [178, 730.5]],
    r: 3.8
  },
  {
    top: 767.5, bottom: 1485.5,
    y: d3.scaleLinear().domain([18.2, 19.4]).range([863.3, 1471.3]),
    magTicks: smartsMagTicks,
    series: [smartsA, smartsB, smartsC],
    nominal: smartsNominalErr,
    title: instrumentNames[1], titleX: 573.5, titleY: 811.4,
    letters: [[139, 1085], [137, 1234.3], [139.5, 1361.4]],
    notes: [[132.7, 1120], [131.5, 1270], [131.5, 1396.6]],
    r: 3.4
  }
];

function styleAxis(g, size) {
  g.select(".domain").remove();
  g.attr("font-family", sans).attr("font-size", size);
  g.selectAll(".tick line").attr("stroke", "#000").attr("stroke-width", 1.4);
  g.selectAll(".tick text").attr("fill", "#222");
}

panels.forEach((p, pi) => {
  const g = svg.append("g");

  // year boundaries
  g.append("g").selectAll("line").data(yearsIn).join("line")
    .attr("x1", d => x(d)).attr("x2", d => x(d))
    .attr("y1", p.top).attr("y2", p.bottom)
    .attr("stroke", "#b8b8b8").attr("stroke-width", 1.1)
    .attr("stroke-dasharray", "1.3,2.6");

  // error bars then markers, component by component
  p.series.forEach((data, si) => {
    const sg = g.append("g");
    sg.selectAll("line").data(data).join("line")
      .attr("x1", d => x(d[0])).attr("x2", d => x(d[0]))
      .attr("y1", d => p.y(d[1] - (d[2] ?? p.nominal[si])))
      .attr("y2", d => p.y(d[1] + (d[2] ?? p.nominal[si])))
      .attr("stroke", "#959595").attr("stroke-width", 1.4);
    sg.selectAll("circle").data(data).join("circle")
      .attr("cx", d => x(d[0])).attr("cy", d => p.y(d[1]))
      .attr("r", p.r).attr("fill", colors[si]);
  });

  // magnitude axis
  const ya = g.append("g").attr("transform", `translate(${plotLeft},0)`)
    .call(d3.axisLeft(p.y).tickValues(p.magTicks).tickFormat(d3.format(".1f"))
      .tickSizeInner(8).tickSizeOuter(0).tickPadding(9));
  styleAxis(ya, 22);

  // calendar ticks along the top edge of each panel
  const ta = g.append("g").attr("transform", `translate(0,${p.top})`)
    .call(d3.axisTop(x).tickValues(monthsIn).tickFormat("").tickSizeInner(4).tickSizeOuter(0));
  styleAxis(ta, 22);
  const tb = g.append("g").attr("transform", `translate(0,${p.top})`)
    .call(d3.axisTop(x).tickValues(yearsIn)
      .tickFormat(d => pi === 0 ? yearLabels[yearDays.indexOf(d)] : "")
      .tickSizeInner(8).tickSizeOuter(0).tickPadding(11.7));
  styleAxis(tb, 22);

  // panel frame
  g.append("rect").attr("x", plotLeft).attr("y", p.top)
    .attr("width", plotRight - plotLeft).attr("height", p.bottom - p.top)
    .attr("fill", "none").attr("stroke", "#000").attr("stroke-width", 2);

  // instrument name
  g.append("text").attr("x", p.titleX).attr("y", p.titleY)
    .attr("text-anchor", "middle").attr("font-family", "Liberation Serif")
    .attr("font-size", 47).attr("fill", "#000").text(p.title);

  // component labels
  componentNames.forEach((name, i) => {
    g.append("text").attr("x", p.letters[i][0]).attr("y", p.letters[i][1])
      .attr("font-family", sans).attr("font-size", 48).attr("fill", colors[i]).text(name);
    g.append("text").attr("x", p.notes[i][0]).attr("y", p.notes[i][1])
      .attr("font-family", sans).attr("font-size", 30.5).attr("fill", colors[i]).text(componentNotes[i]);
  });

  // y label
  g.append("text")
    .attr("transform", `translate(45.5,${(p.top + p.bottom) / 2}) rotate(-90)`)
    .attr("text-anchor", "middle").attr("font-family", sans).attr("font-size", 31)
    .attr("fill", "#222").text("Magnitude (relative)");
});

// day axis at the bottom
const bottomY = panels[1].bottom;
const bm = svg.append("g").attr("transform", `translate(0,${bottomY})`)
  .call(d3.axisBottom(x).tickValues(minorDays).tickFormat("").tickSizeInner(4).tickSizeOuter(0));
styleAxis(bm, 22);
const bM = svg.append("g").attr("transform", `translate(0,${bottomY})`)
  .call(d3.axisBottom(x).tickValues(dayTicks).tickFormat(d3.format("d"))
    .tickSizeInner(8).tickSizeOuter(0).tickPadding(9.9));
styleAxis(bM, 22);

svg.append("text").attr("x", (plotLeft + plotRight) / 2).attr("y", 1555)
  .attr("text-anchor", "middle").attr("font-family", sans).attr("font-size", 31)
  .attr("fill", "#222").text("HJD - 2400000.5 [day]");

// telescope note (slightly tall lettering)
svg.append("text").attr("transform", "translate(1247,740) scale(1,1.1)")
  .attr("font-family", "Liberation Sans").attr("font-weight", "bold")
  .attr("font-size", 45).attr("fill", "#fb2418").text(telescopeNote);
</script>
</body>
</html>
